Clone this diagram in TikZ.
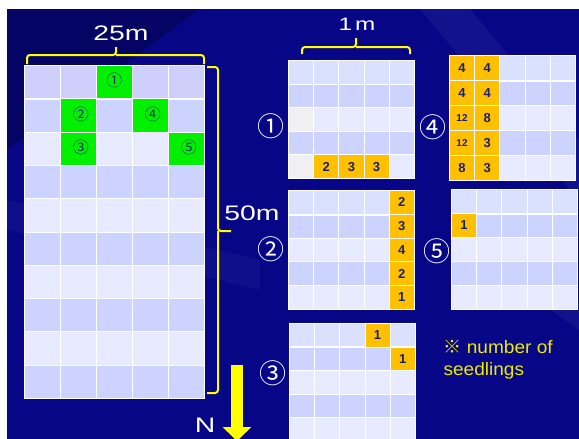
\documentclass[tikz,border=0pt]{standalone}
\usepackage{fontspec}
\setmainfont{Liberation Sans}
\newfontfamily\widefont[FakeStretch=1.35]{Liberation Sans}
\newfontfamily\notefont[FakeStretch=1.06]{Liberation Sans}
\newfontfamily\cjkfont{Noto Sans CJK JP}
\definecolor{bgblue}{RGB}{6, 6, 135}
\definecolor{rowA}{RGB}{232, 235, 255}
\definecolor{rowB}{RGB}{204, 211, 255}
\definecolor{rowC}{RGB}{217, 225, 255}
\definecolor{rowTop}{RGB}{207, 207, 251}
\definecolor{cellgray}{RGB}{240, 240, 242}
\definecolor{plotgreen}{RGB}{0, 240, 0}
\definecolor{plotlabel}{RGB}{20, 50, 110}
\definecolor{seedorange}{RGB}{255, 192, 0}
\definecolor{numblue}{RGB}{30, 30, 110}
\definecolor{braceyellow}{RGB}{255, 255, 0}
\definecolor{noteyellow}{RGB}{235, 235, 0}
\usetikzlibrary{arrows.meta, positioning, calc}

\begin{document}
\begin{tikzpicture}[x=1pt, y=-1pt,
  cell/.style={draw=white, line width=0.8pt, inner sep=0pt},
  bigcell/.style={cell, anchor=north west, minimum width=36pt, minimum height=33.3pt},
  smallcell/.style={cell, anchor=north west, minimum width=25.2pt},
  plot/.style={bigcell, fill=plotgreen, text=plotlabel, font=\cjkfont\fontsize{16}{16}\selectfont},
  seed/.style={cell, fill=seedorange, minimum width=25.2pt, text=numblue, font=\bfseries\fontsize{13}{13}\selectfont},
  brace/.style={draw=braceyellow, line width=2pt, rounded corners=3pt},
  dim/.style={text=white, font=\widefont\fontsize{21}{21}\selectfont},
  gridlabel/.style={text=white, font=\cjkfont\fontsize{27}{27}\selectfont}
]
  \useasboundingbox (0,0) rectangle (579,439);
  \fill[white] (0,0) rectangle (579,439);
  \fill[bgblue] (7,9) rectangle (579,439);
  % faint streaks
  \begin{scope}
    \clip (7,9) rectangle (579,439);
    \fill[black, opacity=0.25] (7,9) -- (200,9) -- (7,150) -- cycle;
    \fill[white, opacity=0.05] (420,9) -- (470,9) -- (579,140) -- (579,200) -- cycle;
    \fill[white, opacity=0.05] (480,260) -- (579,300) -- (579,330) -- cycle;
    \fill[white, opacity=0.04] (7,200) -- (260,260) -- (260,290) -- (7,230) -- cycle;
  \end{scope}

  % field 25m x 50m
  \foreach \r in {1,...,10}
    \foreach \c in {1,...,5}{
      \ifodd\r \def\fc{rowA}\else\def\fc{rowB}\fi
      \ifnum\r=1 \def\fc{rowTop}\fi
      \node[bigcell, fill=\fc] (big-\r-\c) at ({24+36*(\c-1)}, {65+33.3*(\r-1)}) {};
    }
  \draw[white, line width=2pt] (big-1-1.south west) -- (big-1-5.south east);
  \node[plot] (plot1) at (96, 65) {\raisebox{4pt}{①}};
  \node[plot] (plot2) at (60, 98.3) {\raisebox{4pt}{\hspace{5pt}②}};
  \node[plot] (plot4) at (132, 98.3) {\raisebox{4pt}{\hspace{5pt}④}};
  \node[plot] (plot3) at (60, 131.6) {\raisebox{4pt}{\hspace{5pt}③}};
  \node[plot] (plot5) at (168, 131.6) {\raisebox{4pt}{\hspace{5pt}⑤}};

  \node[dim] (width) at (121, 33) {25m};
  \draw[brace] (27,64) -- (27,55) -- (116,55) -- (116,47);
  \draw[brace] (116,55) -- (204,55) -- (204,64);
  \node[dim] (length) at (252, 213) {50m};
  \draw[brace] (207,67) -- (218,67) -- (218,231) -- (231,231);
  \draw[brace] (218,231) -- (218,393) -- (207,393);

  % north arrow
  \node[dim] (north) at (205, 425) {N};
  \coordinate (ntail) at (237, 365);
  \coordinate (ntip) at (237, 441);
  \draw[braceyellow, line width=12pt, -{Triangle[width=28pt, length=14pt]}] (ntail) -- (ntip);

  % 1m x 1m quadrats
  \foreach \gx/\gy/\gh/\g in {288/60/23.6/one, 449/55/25/four, 288/190/23.8/two, 451/189/24/five, 289/323/23.5/three}{
    \foreach \r in {1,...,5}
      \foreach \c in {1,...,5}{
        \ifcase\r\or\def\fc{rowC}\or\def\fc{rowB}\or\def\fc{rowA}\or\def\fc{rowB}\or\def\fc{rowA}\fi
        \node[smallcell, fill=\fc, minimum height=\gh pt] (\g-\r-\c) at ({\gx+25.2*(\c-1)}, {\gy+\gh*(\r-1)}) {};
      }
    \draw[white, line width=1.8pt] (\g-1-1.south west) -- (\g-1-5.south east);
  }
  \node[cell, fill=cellgray, minimum width=25.2pt, minimum height=23.6pt] (one-g1) at (one-3-1.center) {};
  \node[cell, fill=cellgray, minimum width=25.2pt, minimum height=23.6pt] (one-g2) at (one-5-1.center) {};

  \node[dim, font=\widefont\fontsize{18}{18}\selectfont] (unit) at (357, 24) {1\,m};
  \draw[brace] (302,54) -- (302,47) -- (356,47) -- (356,38);
  \draw[brace] (356,47) -- (410,47) -- (410,54);

  \node[gridlabel] (lab1) at (271, 126) {①};
  \node[gridlabel] (lab4) at (433, 127) {④};
  \node[gridlabel] (lab2) at (271, 249) {②};
  \node[gridlabel] (lab5) at (437, 251) {⑤};
  \node[gridlabel] (lab3) at (273, 373) {③};

  % seedlings
  \node[seed, minimum height=23.6pt] (one-s2) at (one-5-2.center) {2};
  \node[seed, minimum height=23.6pt] (one-s3) at (one-5-3.center) {3};
  \node[seed, minimum height=23.6pt] (one-s4) at (one-5-4.center) {3};

  \node[seed, minimum height=25pt] (four-s11) at (four-1-1.center) {4};
  \node[seed, minimum height=25pt] (four-s12) at (four-1-2.center) {4};
  \node[seed, minimum height=25pt] (four-s21) at (four-2-1.center) {4};
  \node[seed, minimum height=25pt] (four-s22) at (four-2-2.center) {4};
  \node[seed, minimum height=25pt, font=\bfseries\fontsize{10}{10}\selectfont] (four-s31) at (four-3-1.center) {12};
  \node[seed, minimum height=25pt] (four-s32) at (four-3-2.center) {8};
  \node[seed, minimum height=25pt, font=\bfseries\fontsize{10}{10}\selectfont] (four-s41) at (four-4-1.center) {12};
  \node[seed, minimum height=25pt] (four-s42) at (four-4-2.center) {3};
  \node[seed, minimum height=25pt] (four-s51) at (four-5-1.center) {8};
  \node[seed, minimum height=25pt] (four-s52) at (four-5-2.center) {3};

  \node[seed, minimum height=23.8pt] (two-s1) at (two-1-5.center) {2};
  \node[seed, minimum height=23.8pt] (two-s2) at (two-2-5.center) {3};
  \node[seed, minimum height=23.8pt] (two-s3) at (two-3-5.center) {4};
  \node[seed, minimum height=23.8pt] (two-s4) at (two-4-5.center) {2};
  \node[seed, minimum height=23.8pt] (two-s5) at (two-5-5.center) {1};

  \node[seed, minimum height=24pt] (five-s1) at (five-2-1.center) {1};

  \node[seed, minimum height=23.5pt] (three-s1) at (three-1-4.center) {1};
  \node[seed, minimum height=23.5pt] (three-s2) at (three-2-5.center) {1};

  \node[text=noteyellow, font=\notefont\fontsize{18}{22}\selectfont, align=left, anchor=west] (note) at (440, 360) {{\cjkfont ※} number of\\seedlings};
\end{tikzpicture}
\end{document}
